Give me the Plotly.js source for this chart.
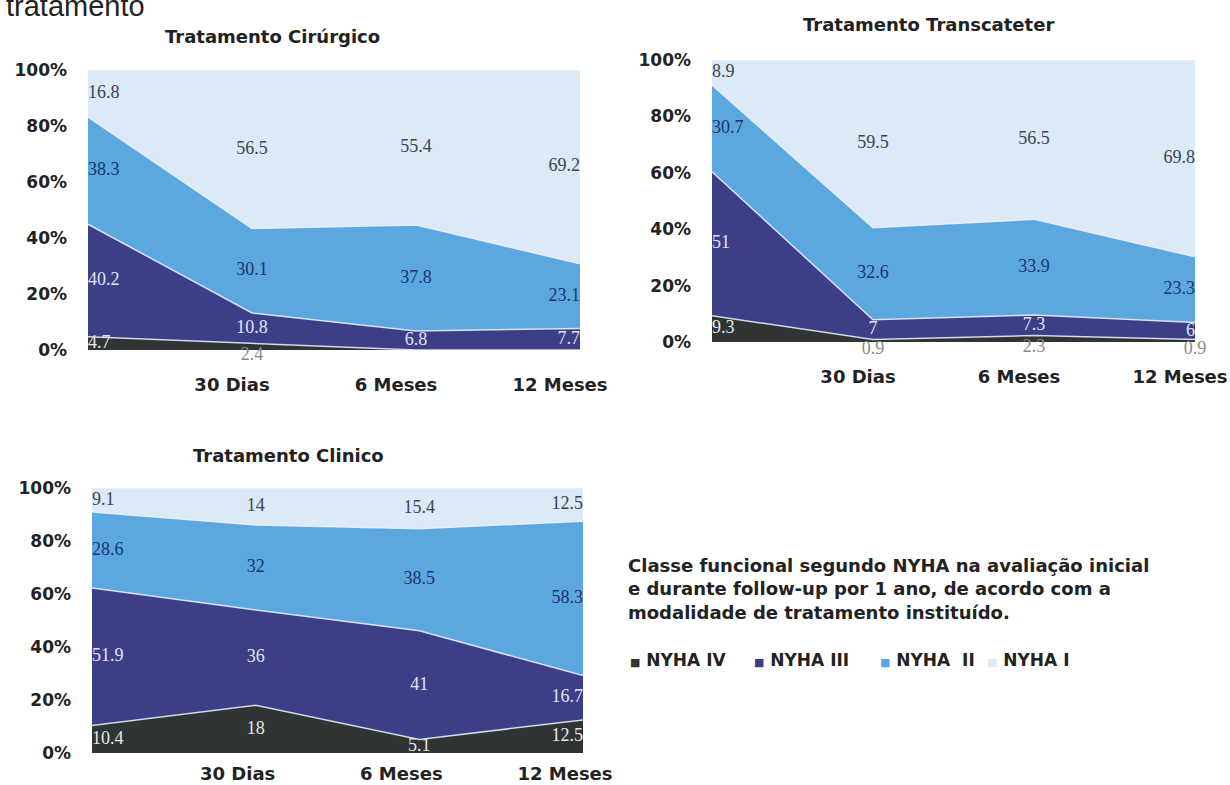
<!DOCTYPE html>
<html>
<head>
<meta charset="utf-8">
<script src="https://cdn.plot.ly/plotly-3.0.1.min.js"></script>
<style>html,body{margin:0;padding:0;background:#fff;}#chart{width:1230px;height:785px;}</style>
</head>
<body>
<div id="chart"></div>
<script>
// ---------------- DATA ----------------
const categories = ['', '30 Dias', '6 Meses', '12 Meses'];
const yTickLabels = ['0%', '20%', '40%', '60%', '80%', '100%'];
const seriesNames = ['NYHA IV', 'NYHA III', 'NYHA  II', 'NYHA I'];

// Tratamento Cirúrgico
const cirIV  = [4.7, 2.4, 0, 0];
const cirIII = [40.2, 10.8, 6.8, 7.7];
const cirII  = [38.3, 30.1, 37.8, 23.1];
const cirI   = [16.8, 56.5, 55.4, 69.2];

// Tratamento Transcateter
const traIV  = [9.3, 0.9, 2.3, 0.9];
const traIII = [51, 7, 7.3, 6];
const traII  = [30.7, 32.6, 33.9, 23.3];
const traI   = [8.9, 59.5, 56.5, 69.8];

// Tratamento Clinico
const cliIV  = [10.4, 18, 5.1, 12.5];
const cliIII = [51.9, 36, 41, 16.7];
const cliII  = [28.6, 32, 38.5, 58.3];
const cliI   = [9.1, 14, 15.4, 12.5];

const titles = ['Tratamento Cirúrgico', 'Tratamento Transcateter', 'Tratamento Clinico'];
const caption = 'Classe funcional segundo NYHA na avaliação inicial<br>e durante follow-up por 1 ano, de acordo com a<br>modalidade de tratamento instituído.';

// ---------------- STYLE ----------------
const W = 1230, H = 785;
const fillColors = ['#2f3535', '#3d3e88', '#5ba8e0', '#dce9f6'];
const labelColors = ['#e8e8e8', '#e2e3f4', '#1d3468', '#3b4452'];
const sans = 'DejaVu Sans, Verdana, sans-serif';
const serif = 'Liberation Serif, Times New Roman, serif';
const boldFont = (size) => ({family: sans, size: size, color: '#222', weight: 'bold'});

const panels = [
  {series: [cirIV, cirIII, cirII, cirI], px: [88, 580], py: [70, 350], title: [272, 37], shift: -20, standoff: 22},
  {series: [traIV, traIII, traII, traI], px: [712, 1195], py: [60, 342], title: [928, 25], shift: -15, standoff: 22},
  {series: [cliIV, cliIII, cliII, cliI], px: [92, 583], py: [488, 753], title: [288, 455], shift: -18, standoff: 8}
];
const legendPx = [628, 752, 878, 985];
const legendPy = 660;

const xs = categories.map((_, i) => i);
const traces = [];
const layout = {
  width: W, height: H,
  margin: {l: 0, r: 0, t: 0, b: 0},
  paper_bgcolor: '#fff', plot_bgcolor: '#fff',
  showlegend: false,
  annotations: []
};

panels.forEach((p, k) => {
  const sfx = k === 0 ? '' : String(k + 1);
  const xa = 'x' + sfx, ya = 'y' + sfx;
  layout['xaxis' + sfx] = {
    domain: [p.px[0] / W, p.px[1] / W], range: [0, 3], anchor: ya,
    showgrid: false, zeroline: false, showline: false, ticks: '',
    tickvals: xs.slice(1), ticktext: categories.slice(1),
    ticklabelstandoff: p.standoff, ticklabelshift: p.shift,
    tickfont: boldFont(18), fixedrange: true
  };
  layout['yaxis' + sfx] = {
    domain: [1 - p.py[1] / H, 1 - p.py[0] / H], range: [0, 100], anchor: xa,
    showgrid: false, zeroline: false, showline: false, ticks: '',
    tickvals: [0, 20, 40, 60, 80, 100], ticktext: yTickLabels,
    ticklabelstandoff: 20,
    tickfont: boldFont(17), fixedrange: true
  };
  const totals = xs.map(i => p.series.reduce((s, arr) => s + arr[i], 0));
  const cum = xs.map(() => 0);
  p.series.forEach((vals, s) => {
    traces.push({
      type: 'scatter', mode: 'lines', x: xs, y: vals, xaxis: xa, yaxis: ya,
      stackgroup: 'g' + k, groupnorm: 'percent',
      line: {color: 'rgba(236,240,250,0.85)', width: 1.5},
      fillcolor: fillColors[s], name: seriesNames[s], showlegend: false, hoverinfo: 'skip'
    });
    const mids = xs.map(i => {
      const v = vals[i] / totals[i] * 100;
      const m = cum[i] + v / 2;
      cum[i] += v;
      return m;
    });
    const small = xs.map(i => s === 0 && vals[i] < 3 && i > 0);
    traces.push({
      type: 'scatter', mode: 'text', x: xs, y: mids, xaxis: xa, yaxis: ya,
      text: vals.map(v => v === 0 ? '' : String(v)),
      textposition: xs.map(i => small[i] ? 'bottom center' : (i === 0 ? 'middle right' : (i === 3 ? 'middle left' : 'middle center'))),
      textfont: {family: serif, size: 18, color: xs.map(i => small[i] ? '#8a8a8a' : labelColors[s])},
      cliponaxis: false, showlegend: false, hoverinfo: 'skip'
    });
  });
  layout.annotations.push({
    xref: 'paper', yref: 'paper', x: p.title[0] / W, y: 1 - p.title[1] / H,
    xanchor: 'center', yanchor: 'middle', showarrow: false, text: titles[k],
    font: boldFont(18)
  });
});

// legend drawn as text entries with coloured square glyphs
seriesNames.forEach((n, s) => {
  layout.annotations.push({
    xref: 'paper', yref: 'paper', x: legendPx[s] / W, y: 1 - legendPy / H,
    xanchor: 'left', yanchor: 'middle', showarrow: false,
    text: '<span style="font-size:11px;fill:' + fillColors[s] + '">■</span> ' + n.replace(/ /g, '&nbsp;'),
    font: boldFont(17)
  });
});

layout.annotations.push({
  xref: 'paper', yref: 'paper', x: 626 / W, y: 1 - 589 / H, xanchor: 'left', yanchor: 'middle',
  align: 'left', showarrow: false, text: caption,
  font: boldFont(18)
});
layout.annotations.push({
  xref: 'paper', yref: 'paper', x: 4 / W, y: 1 - 24 / H, xanchor: 'left', yanchor: 'bottom',
  showarrow: false, text: 'tratamento', font: {family: 'Liberation Sans, Arial, sans-serif', size: 29, color: '#222'}
});

Plotly.newPlot('chart', traces, layout, {displayModeBar: false, staticPlot: true});
</script>
</body>
</html>
